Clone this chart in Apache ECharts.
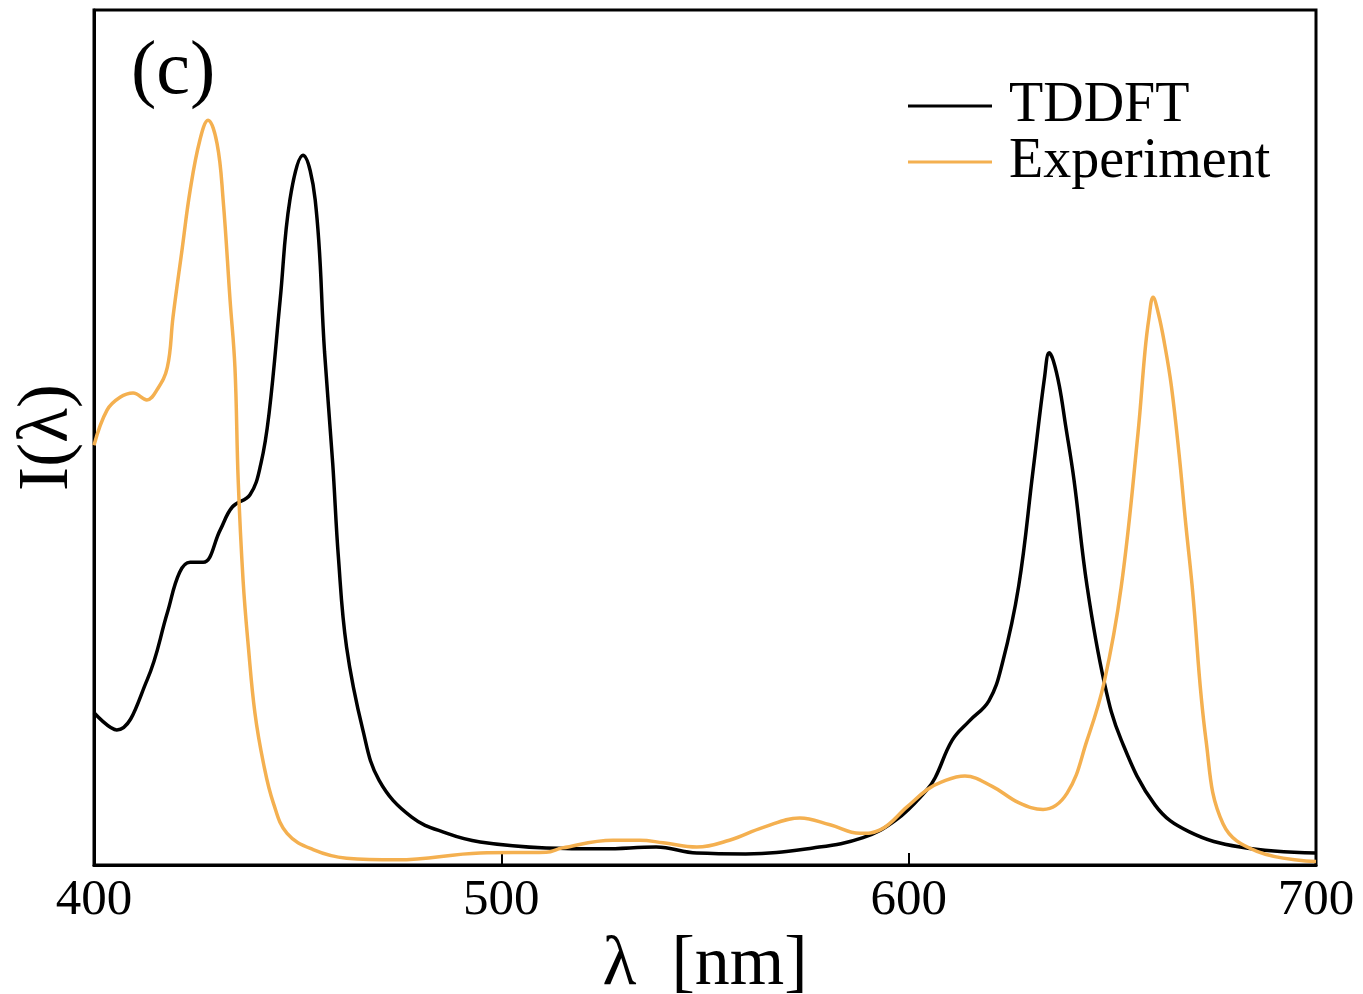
<!DOCTYPE html>
<html>
<head>
<meta charset="utf-8">
<title>Absorption spectrum</title>
<script src="https://cdn.jsdelivr.net/npm/echarts@6/dist/echarts.min.js"></script>
<style>
  html, body { margin: 0; padding: 0; background: #ffffff; }
  #chart { width: 1363px; height: 994px; }
</style>
</head>
<body>
<div id="chart"></div>
<script>
// Wavelength axis ticks (nm)
const xTicks = [400, 500, 600, 700];

// TDDFT spectrum: wavelength (nm) and normalised intensity
const tddftNm = [400, 405.6, 413, 418, 421, 423.6, 426.8, 431, 434, 438.3, 441, 443, 445.7, 448.1, 451.3, 454.3, 456.6, 458.6, 460, 462, 466, 470, 478, 486.7, 494.8, 511, 525, 538, 548, 560, 576.5, 588.8, 597, 604.5, 606.5, 610.7, 614.8, 619.7, 623, 627, 630.5, 633.4, 634.5, 635.5, 637, 638.5, 640.6, 643.8, 648, 652.2, 660.5, 668.8, 681.4, 700];
const tddftI  = [0.178, 0.158, 0.216, 0.295, 0.342, 0.354, 0.354, 0.392, 0.419, 0.433, 0.470, 0.529, 0.661, 0.778, 0.830, 0.778, 0.600, 0.470, 0.360, 0.255, 0.158, 0.099, 0.056, 0.037, 0.027, 0.020, 0.019, 0.021, 0.014, 0.013, 0.020, 0.032, 0.053, 0.088, 0.102, 0.146, 0.168, 0.192, 0.236, 0.326, 0.460, 0.572, 0.599, 0.590, 0.560, 0.515, 0.450, 0.326, 0.214, 0.146, 0.070, 0.039, 0.021, 0.014];

// Experimental spectrum: wavelength (nm) and normalised intensity
const expNm = [400, 403.2, 406.4, 409.6, 413, 415.5, 418, 419.4, 421.6, 423.6, 426, 428, 430.2, 431.7, 433.4, 434.6, 435.4, 436.6, 437.9, 439.5, 441.6, 444, 447.4, 453.8, 462, 474.4, 494.8, 511, 515, 527.4, 534, 539.7, 548, 556, 564.3, 573.3, 580.7, 588, 593, 599.6, 604.5, 608, 613.8, 620.5, 627, 633, 638.9, 643.8, 648, 652.2, 656.3, 658, 659, 660, 661.3, 662.8, 664.5, 666.4, 668, 669.6, 673, 677.2, 685.5, 700];
const expI  = [0.491, 0.532, 0.547, 0.552, 0.544, 0.556, 0.582, 0.641, 0.719, 0.789, 0.848, 0.871, 0.844, 0.778, 0.661, 0.582, 0.450, 0.333, 0.255, 0.178, 0.119, 0.073, 0.037, 0.018, 0.008, 0.006, 0.014, 0.015, 0.020, 0.029, 0.029, 0.026, 0.021, 0.029, 0.044, 0.055, 0.047, 0.037, 0.041, 0.068, 0.088, 0.097, 0.104, 0.092, 0.073, 0.065, 0.084, 0.146, 0.214, 0.326, 0.505, 0.600, 0.640, 0.664, 0.645, 0.610, 0.560, 0.480, 0.400, 0.326, 0.146, 0.048, 0.016, 0.004];

const seriesNames = ['TDDFT', 'Experiment'];
const seriesColors = ['#000000', '#f4b050'];

const pairs = (xs, ys) => xs.map((x, i) => [x, ys[i]]);
const FONT = '"Liberation Serif", "DejaVu Serif", serif';

const chart = echarts.init(document.getElementById('chart'), null, { renderer: 'canvas' });

chart.setOption({
  animation: false,
  backgroundColor: '#ffffff',
  title: {
    text: '(c)',
    left: 126,
    top: 30,
    textStyle: { fontFamily: FONT, fontSize: 76, fontWeight: 'normal', color: '#000' }
  },
  legend: {
    orient: 'vertical',
    left: 903,
    top: 73,
    icon: 'rect',
    itemWidth: 84,
    itemHeight: 3,
    itemGap: 0,
    data: seriesNames,
    textStyle: { fontFamily: FONT, fontSize: 56, color: '#000', lineHeight: 54, padding: [0, 0, 0, 12] }
  },
  grid: {
    left: 94,
    right: 47,
    top: 10,
    bottom: 129,
    containLabel: false,
    outerBoundsMode: 'none',
    show: true,
    borderColor: '#000',
    borderWidth: 3,
    backgroundColor: 'transparent'
  },
  xAxis: {
    type: 'value',
    min: xTicks[0],
    max: xTicks[xTicks.length - 1],
    interval: 100,
    name: 'λ  [nm]',
    nameLocation: 'middle',
    nameGap: 50,
    nameTextStyle: { fontFamily: FONT, fontSize: 70, color: '#000' },
    axisLine: { show: true, lineStyle: { color: '#000', width: 3 } },
    axisTick: { show: true, inside: true, length: 12, lineStyle: { color: '#000', width: 2 } },
    axisLabel: { fontFamily: FONT, fontSize: 51, color: '#000', margin: 10 },
    splitLine: { show: false }
  },
  yAxis: {
    type: 'value',
    min: 0,
    max: 1,
    name: 'I(λ)',
    nameLocation: 'middle',
    nameGap: 10,
    nameRotate: 90,
    nameTextStyle: { fontFamily: FONT, fontSize: 72, color: '#000' },
    axisLine: { show: true, lineStyle: { color: '#000', width: 3 } },
    axisTick: { show: false },
    axisLabel: { show: false },
    splitLine: { show: false }
  },
  series: [
    {
      name: seriesNames[0],
      type: 'line',
      data: pairs(tddftNm, tddftI),
      showSymbol: false,
      symbol: 'none',
      smooth: 0.4,
      color: seriesColors[0],
      lineStyle: { color: seriesColors[0], width: 3.5 },
      z: 2
    },
    {
      name: seriesNames[1],
      type: 'line',
      data: pairs(expNm, expI),
      showSymbol: false,
      symbol: 'none',
      smooth: 0.4,
      color: seriesColors[1],
      lineStyle: { color: seriesColors[1], width: 3.5 },
      z: 3
    }
  ]
});
</script>
</body>
</html>
